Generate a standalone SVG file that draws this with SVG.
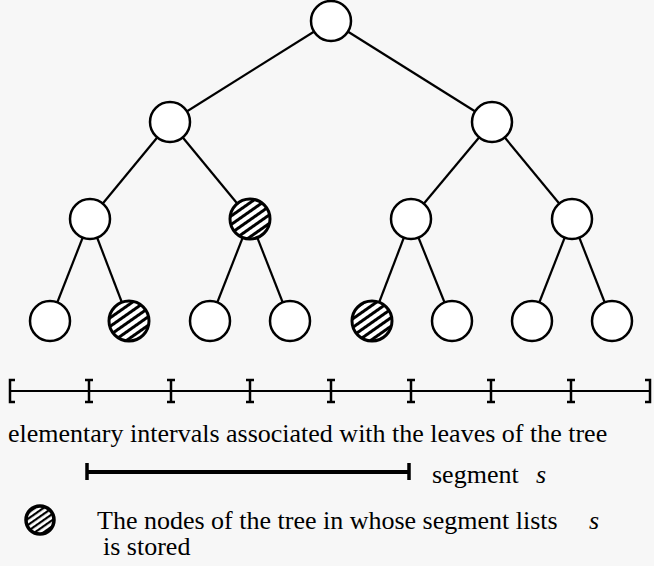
<svg xmlns="http://www.w3.org/2000/svg" width="654" height="566" viewBox="0 0 654 566">
<defs>
<pattern id="hatch" width="7" height="7" patternUnits="userSpaceOnUse" patternTransform="rotate(-35)">
<rect width="7" height="7" fill="#fff"/>
<rect width="7" height="3" fill="#000"/>
</pattern>
<pattern id="hatch2" width="5" height="5" patternUnits="userSpaceOnUse" patternTransform="rotate(-35)">
<rect width="5" height="5" fill="#fff"/>
<rect width="5" height="2.2" fill="#000"/>
</pattern>
<style>
.n{fill:#fff;stroke:#000;stroke-width:2.5}
.h{fill:url(#hatch);stroke:#000;stroke-width:3}
.e line{stroke:#000;stroke-width:2.2}
.t{font-family:"Liberation Serif","Times New Roman",serif;font-size:26px;fill:#000}
.i{font-style:italic}
.tick{stroke:#000;stroke-width:2.5;fill:none}
</style>
</defs>
<rect width="654" height="566" fill="#f7f7f7"/>
<g id="edges" class="e">
<line x1="331" y1="21" x2="170" y2="122"/>
<line x1="331" y1="21" x2="492" y2="122"/>
<line x1="170" y1="122" x2="90" y2="219"/>
<line x1="170" y1="122" x2="250" y2="219"/>
<line x1="492" y1="122" x2="411" y2="219"/>
<line x1="492" y1="122" x2="572" y2="219"/>
<line x1="90" y1="219" x2="50" y2="321"/>
<line x1="90" y1="219" x2="129" y2="321"/>
<line x1="250" y1="219" x2="210" y2="321"/>
<line x1="250" y1="219" x2="290" y2="321"/>
<line x1="411" y1="219" x2="372" y2="321"/>
<line x1="411" y1="219" x2="452" y2="321"/>
<line x1="572" y1="219" x2="532" y2="321"/>
<line x1="572" y1="219" x2="612" y2="321"/>
</g>
<g id="root"><circle class="n" cx="331" cy="21" r="20"/></g>
<g id="n1"><circle class="n" cx="170" cy="122" r="20"/></g>
<g id="n2"><circle class="n" cx="492" cy="122" r="20"/></g>
<g id="n3"><circle class="n" cx="90" cy="219" r="20"/></g>
<g id="n4"><circle class="h" cx="250" cy="219" r="20"/></g>
<g id="n5"><circle class="n" cx="411" cy="219" r="20"/></g>
<g id="n6"><circle class="n" cx="572" cy="219" r="20"/></g>
<g id="l1"><circle class="n" cx="50" cy="321" r="20"/></g>
<g id="l2"><circle class="h" cx="129" cy="321" r="20"/></g>
<g id="l3"><circle class="n" cx="210" cy="321" r="20"/></g>
<g id="l4"><circle class="n" cx="290" cy="321" r="20"/></g>
<g id="l5"><circle class="h" cx="372" cy="321" r="20"/></g>
<g id="l6"><circle class="n" cx="452" cy="321" r="20"/></g>
<g id="l7"><circle class="n" cx="532" cy="321" r="20"/></g>
<g id="l8"><circle class="n" cx="612" cy="321" r="20"/></g>
<g id="intervals">
<line x1="10" y1="391" x2="650" y2="391" stroke="#000" stroke-width="2"/>
<path class="tick" d="M15 380 H10 V402 H15"/>
<path class="tick" d="M645 380 H650 V402 H645"/>
<path class="tick" d="M85 380 H93 M89 380 V402 M85 402 H93"/>
<path class="tick" d="M167 380 H175 M171 380 V402 M167 402 H175"/>
<path class="tick" d="M246 380 H254 M250 380 V402 M246 402 H254"/>
<path class="tick" d="M327 380 H335 M331 380 V402 M327 402 H335"/>
<path class="tick" d="M407 380 H415 M411 380 V402 M407 402 H415"/>
<path class="tick" d="M487 380 H495 M491 380 V402 M487 402 H495"/>
<path class="tick" d="M567 380 H575 M571 380 V402 M567 402 H575"/>
<text class="t" x="8" y="442">elementary intervals associated with the leaves of the tree</text>
</g>
<g id="segment">
<line x1="87" y1="472" x2="409" y2="472" stroke="#000" stroke-width="4"/>
<line x1="87" y1="463" x2="87" y2="480" stroke="#000" stroke-width="3.5"/>
<line x1="409" y1="463" x2="409" y2="480" stroke="#000" stroke-width="3.5"/>
<text class="t" x="432" y="483">segment<tspan class="i" x="536">s</tspan></text>
</g>
<g id="legend">
<circle cx="40" cy="520" r="14" fill="url(#hatch2)" stroke="#000" stroke-width="3.5"/>
<text class="t" x="97" y="529">The nodes of the tree in whose segment lists<tspan class="i" x="589">s</tspan></text>
<text class="t" x="103" y="555">is stored</text>
</g>
</svg>
